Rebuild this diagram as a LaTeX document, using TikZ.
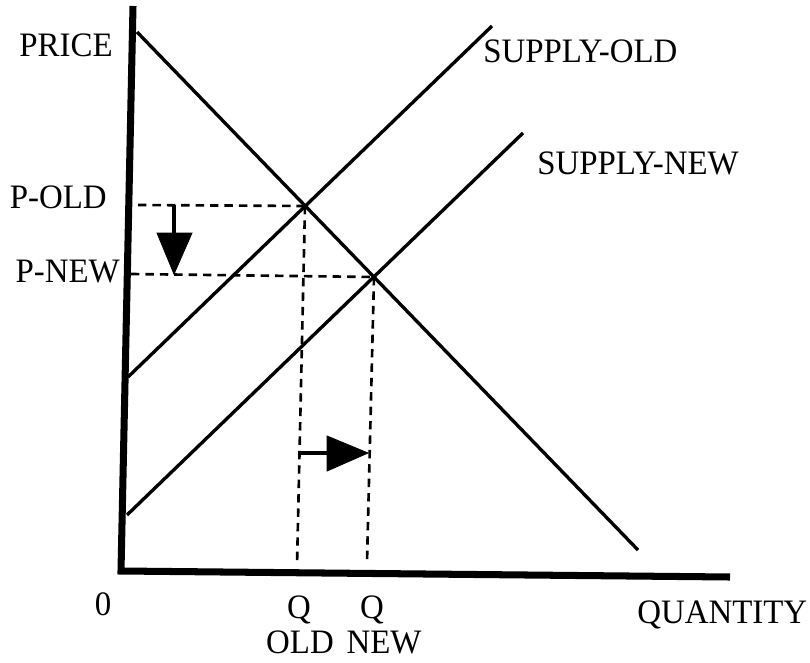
\documentclass[tikz,border=0pt]{standalone}
\usepackage{fontspec}
\setmainfont{Liberation Serif}[FakeStretch=0.96]
\begin{document}
\begin{tikzpicture}[x=0.02cm,y=-0.02cm,
  lbl/.style={font=\fontsize{19.5}{22}\selectfont, inner sep=0pt},
  axis/.style={line width=4pt, line join=miter},
  curve/.style={line width=1.9pt},
  guide/.style={line width=1.5pt, dash pattern=on 4.8pt off 3.4pt},
  shaft/.style={line width=2.5pt},
  head/.style={fill=black, draw=black, line width=0.5pt, line join=miter}]
\useasboundingbox (0,0) rectangle (810,662);
% key points
\coordinate (ytop) at (133,6);
\coordinate (O) at (121,571);
\coordinate (xend) at (730,577);
\coordinate (D1) at (137,32);
\coordinate (D2) at (638,550);
\coordinate (SO1) at (128,377);
\coordinate (SO2) at (492,26);
\coordinate (SN1) at (127,515);
\coordinate (SN2) at (523,133);
\coordinate (E1) at (305,206);
\coordinate (E2) at (374,277);
\coordinate (PO) at (138,205);
\coordinate (PN) at (131,274);
\coordinate (QO) at (297,566);
\coordinate (QN) at (367,562);
% axes
\draw[axis] (ytop) -- (O) -- (xend);
% curves
\draw[curve] (D1) -- (D2);
\draw[curve] (SO1) -- (SO2);
\draw[curve] (SN1) -- (SN2);
% guides
\draw[guide] (PO) -- (E1);
\draw[guide] (PN) -- (E2);
\draw[guide] (E1) -- (QO);
\draw[guide] (E2) -- (QN);
% down arrow
\coordinate (da1) at (174,205);
\coordinate (da2) at (174,240);
\draw[shaft] (da1) -- (da2);
\draw[head] (157,233) -- (192,233) -- (174,274) -- cycle;
% right arrow
\coordinate (ra1) at (299,453);
\coordinate (ra2) at (330,453);
\draw[shaft] (ra1) -- (ra2);
\draw[head] (327,436) -- (327,471) -- (368,453) -- cycle;
% labels
\node[lbl, anchor=base east] (price) at (113,57) {PRICE};
\node[lbl, anchor=base east] (pold) at (107,208) {P-OLD};
\node[lbl, anchor=base east] (pnew) at (120,282) {P-NEW};
\node[lbl, anchor=base west] (sold) at (483,63) {SUPPLY-OLD};
\node[lbl, anchor=base west] (snew) at (537,174) {SUPPLY-NEW};
\node[lbl, anchor=base] (zero) at (103,615) {0};
\node[lbl, anchor=base] (q1) at (299,618) {Q};
\node[lbl, anchor=base] (old) at (300,653) {OLD};
\node[lbl, anchor=base] (q2) at (372,618) {Q};
\node[lbl, anchor=base] (new) at (384,653) {NEW};
\node[lbl, anchor=base west] (qty) at (637,623) {QUANTITY};
\end{tikzpicture}
\end{document}
